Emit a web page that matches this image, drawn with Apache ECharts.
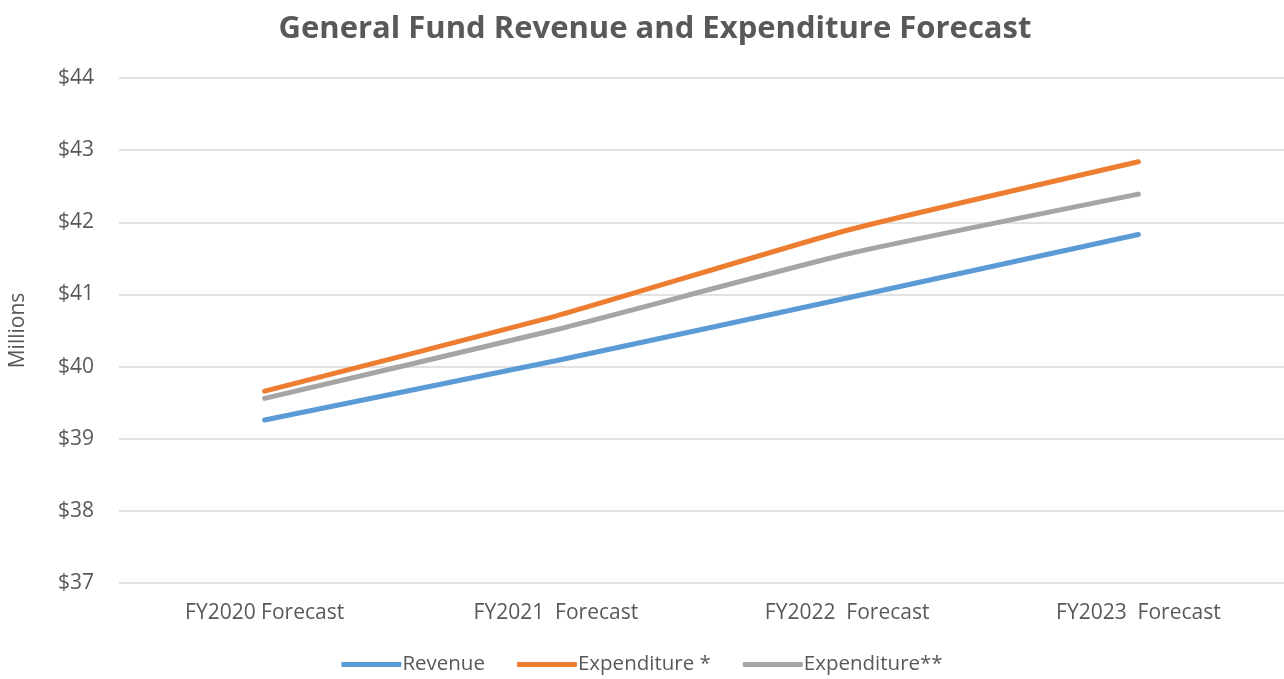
<!DOCTYPE html>
<html><head><meta charset="utf-8">
<script src="https://cdn.jsdelivr.net/npm/echarts@6/dist/echarts.min.js"></script>
<style>html,body{margin:0;padding:0;background:#fff}#c{width:1284px;height:679px}</style>
</head><body><div id="c"></div>
<script>
const categories = ['FY2020 Forecast', 'FY2021  Forecast', 'FY2022  Forecast', 'FY2023  Forecast'];
const revenue = [39.26, 40.08, 40.95, 41.83];
const expenditure1 = [39.66, 40.70, 41.89, 42.84];
const expenditure2 = [39.56, 40.51, 41.56, 42.39];
const yTicks = [37, 38, 39, 40, 41, 42, 43, 44];

const font = '"Open Sans", "Noto Sans", sans-serif';
const chart = echarts.init(document.getElementById('c'));
function line(name, data, color) {
  return { name, type: 'line', data, smooth: 0.15, symbol: 'none',
    lineStyle: { color, width: 5, cap: 'round' }, itemStyle: { color } };
}
chart.setOption({
  animation: false,
  textStyle: { fontFamily: font },
  title: { text: 'General Fund Revenue and Expenditure Forecast', top: 9, left: 650, textAlign: 'center',
    textStyle: { fontFamily: font, fontSize: 31, fontWeight: 'bold', color: '#595959' } },
  legend: { bottom: -1, itemWidth: 60, itemHeight: 5, itemGap: 32, icon: 'roundRect',
    textStyle: { fontFamily: font, fontSize: 20.5, color: '#595959', padding: [0,0,0,-4] } },
  grid: { left: 112, right: 0, top: 78, bottom: 96 },
  xAxis: { type: 'category', data: categories, boundaryGap: true,
    axisLine: { show: false }, axisTick: { show: false },
    axisLabel: { fontSize: 21, color: '#595959', margin: 20 } },
  yAxis: { type: 'value', min: yTicks[0], max: yTicks[yTicks.length-1], interval: 1,
    name: 'Millions', nameLocation: 'middle', nameGap: 90, nameRotate: 90,
    nameTextStyle: { fontSize: 21, color: '#595959' },
    axisLine: { show: false }, axisTick: { show: false },
    axisLabel: { fontSize: 21, color: '#595959', margin: 25, formatter: v => '$' + v },
    splitLine: { lineStyle: { color: '#d9d9d9', width: 1.5 } } },
  series: [
    line('Revenue', revenue, '#5b9bd5'),
    line('Expenditure *', expenditure1, '#ed7d31'),
    line('Expenditure**', expenditure2, '#a5a5a5')
  ]
});
</script></body></html>
